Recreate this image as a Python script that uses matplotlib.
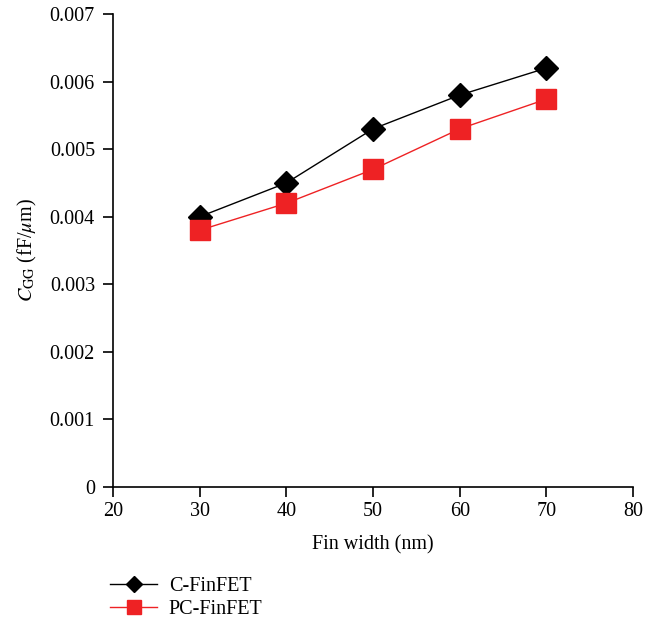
import matplotlib
matplotlib.use("Agg")
import matplotlib.pyplot as plt

plt.rcParams["font.family"] = ["Liberation Serif", "DejaVu Serif"]
plt.rcParams["mathtext.fontset"] = "stix"

fin_width = [30, 40, 50, 60, 70]
cgg_c = [0.0040, 0.0045, 0.0053, 0.0058, 0.0062]
cgg_pc = [0.0038, 0.0042, 0.0047, 0.0053, 0.00574]

fig = plt.figure(figsize=(6.56, 6.23), dpi=100)
ax = fig.add_axes([0.1723, 0.2183, 0.7927, 0.7592])

ax.plot(fin_width, cgg_c, color="black", lw=1.0, marker="D", ms=12,
        mfc="black", mec="black", label="C-FinFET", zorder=3)
ax.plot(fin_width, cgg_pc, color="#ee2224", lw=1.0, marker="s", ms=15,
        mfc="#ee2224", mec="#ee2224", label="PC-FinFET", zorder=4)

ax.set_xlim(20, 80)
ax.set_ylim(0, 0.007)
ax.set_xticks(range(20, 81, 10))
ax.set_yticks([0, 0.001, 0.002, 0.003, 0.004, 0.005, 0.006, 0.007])
ax.set_yticklabels(["0", "0.001", "0.002", "0.003", "0.004", "0.005", "0.006", "0.007"])
ax.spines["top"].set_visible(False)
ax.spines["right"].set_visible(False)
ax.spines["left"].set_linewidth(1.2)
ax.spines["bottom"].set_linewidth(1.2)
ax.tick_params(direction="out", length=7, width=1.2, labelsize=14.5, pad=4)
ax.tick_params(axis="y", pad=6)

ax.set_xlabel("Fin width (nm)", fontsize=14.5, labelpad=10)
ax.set_ylabel(r"$C_{\mathrm{GG}}$ (fF/$\mu$m)", fontsize=14.5, labelpad=8)

ax.legend(loc="upper left", bbox_to_anchor=(-0.005, -0.19), frameon=False,
          fontsize=14.5, handlelength=2.3, handletextpad=0.6, markerscale=0.7,
          borderaxespad=0, borderpad=0, labelspacing=0.2)

fig.savefig("out.png", dpi=100)
